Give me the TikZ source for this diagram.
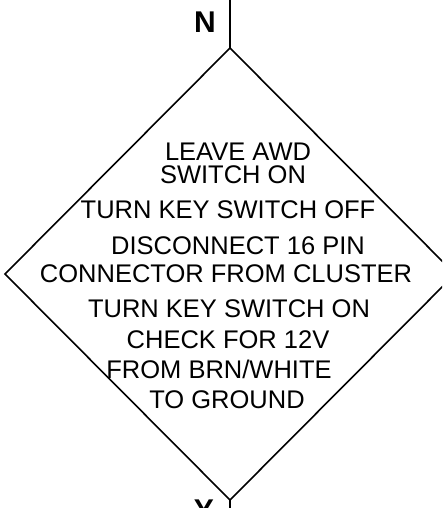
\documentclass[tikz,border=0pt]{standalone}
\usepackage{fontspec}
\setmainfont{Liberation Sans}
\usetikzlibrary{shapes.geometric}
\begin{document}
\begin{tikzpicture}[x=1pt,y=-1pt,
  lbl/.style={anchor=base,inner sep=0pt,text height=18pt,text depth=0pt,font=\fontsize{25.5}{25.5}\selectfont},
  big/.style={anchor=base,inner sep=0pt,text height=22pt,text depth=0pt,font=\fontsize{30}{30}\selectfont\bfseries},
  edge/.style={line width=1.6pt}]
\useasboundingbox (0,0) rectangle (442,508);
\clip (0,0) rectangle (442,508);
\node[diamond,draw,line width=1.6pt,minimum width=450pt,minimum height=452pt,inner sep=0pt,outer sep=0pt] (d) at (230,274) {};
\coordinate (top) at (230,0);
\coordinate (bot) at (230,510);
\draw[edge] (top) -- (d.north);
\draw[edge] (d.south) -- (bot);
\node[big] (n) at (205,33) {N};
\node[big] (y) at (204,520) {Y};
\node[lbl] (l1) at (238,160) {LEAVE AWD};
\node[lbl] (l2) at (233,183) {SWITCH ON};
\node[lbl] (l3) at (228,218) {TURN KEY SWITCH OFF};
\node[lbl] (l4) at (238,254) {DISCONNECT 16 PIN};
\node[lbl] (l5) at (226,282) {CONNECTOR FROM CLUSTER};
\node[lbl] (l6) at (229,317) {TURN KEY SWITCH ON};
\node[lbl] (l7) at (228,348) {CHECK FOR 12V};
\node[lbl] (l8) at (219,378) {FROM BRN/WHITE};
\node[lbl] (l9) at (227,408) {TO GROUND};
\end{tikzpicture}
\end{document}
